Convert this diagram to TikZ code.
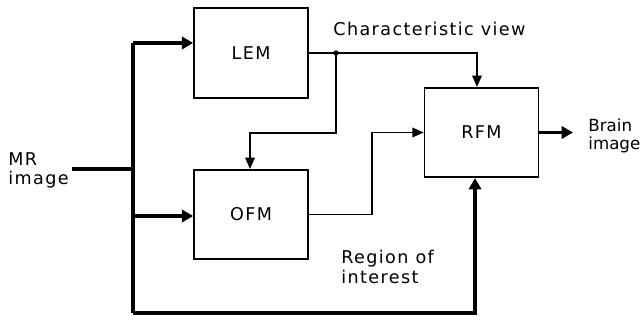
\documentclass[tikz,border=0pt]{standalone}
\usepackage{fontspec}
\setmainfont{DejaVu Sans}[LetterSpace=8]
\newfontfamily\plainfont{DejaVu Sans}
\usetikzlibrary{arrows.meta}
\begin{document}
\begin{tikzpicture}[x=0.02cm,y=-0.02cm]
\tikzset{
  blk/.style={draw, line width=0.9pt, minimum width=2.28cm, minimum height=1.79cm, inner sep=0pt, font=\fontsize{10}{11}\selectfont},
  txt/.style={inner sep=0pt, font=\fontsize{10}{11}\selectfont},
  sigline/.style={line width=0.8pt},
  sigarrow/.style={line width=0.8pt, -{Triangle[length=6.5pt,width=5.5pt]}},
  busline/.style={line width=2.2pt},
  busarrow/.style={line width=2.2pt, -{Triangle[length=6.5pt,width=7pt]}}
}
\useasboundingbox (0,0) rectangle (641,320);
\node[blk] (lem) at (251,53) {LEM};
\node[blk] (ofm) at (251,214.5) {OFM};
\node[blk] (rfm) at (481.5,132.5) {RFM};

\coordinate (mrin) at (72,169);
\coordinate (bm) at (133,169);
\coordinate (bt) at (133,43);
\coordinate (bb) at (133,313);
\coordinate (bo) at (133,216);
\coordinate (br) at (475,313);
\coordinate (j) at (336,53);
\coordinate (ct) at (477,53);
\coordinate (jl) at (250,133);
\coordinate (om) at (372,214);
\coordinate (out) at (573,130);

% bus
\draw[busline] (mrin) -- (bm);
\draw[busline] (bt) -- (bb);
\draw[busarrow] (bt) -- (bt -| lem.west);
\draw[busarrow] (bo) -- (bo -| ofm.west);
\draw[busarrow] (bb) -- (br) -- (br |- rfm.south);
\draw[busarrow] (rfm.east) -- (rfm.east -| out);

% signals
\draw[sigarrow] (lem.east) -- (ct) -- (ct |- rfm.north);
\fill (j) circle (1.5pt);
\draw[sigarrow] (j) |- (jl) -- (jl |- ofm.north);
\draw[sigarrow] (ofm.east) -| (om |- rfm.west) -- (rfm.west);

% labels
\node[txt, anchor=base west] (cv) at (333,36) {Characteristic view};
\node[txt, anchor=north west, align=left] (mr) at (8,152) {MR\\image};
\node[txt, anchor=north west, align=left] (roi) at (341,250) {Region of\\interest};
\node[inner sep=0pt, anchor=north west, align=left, font=\plainfont\fontsize{9.5}{10.5}\selectfont] (bi) at (588,118) {Brain\\image};
\end{tikzpicture}
\end{document}
